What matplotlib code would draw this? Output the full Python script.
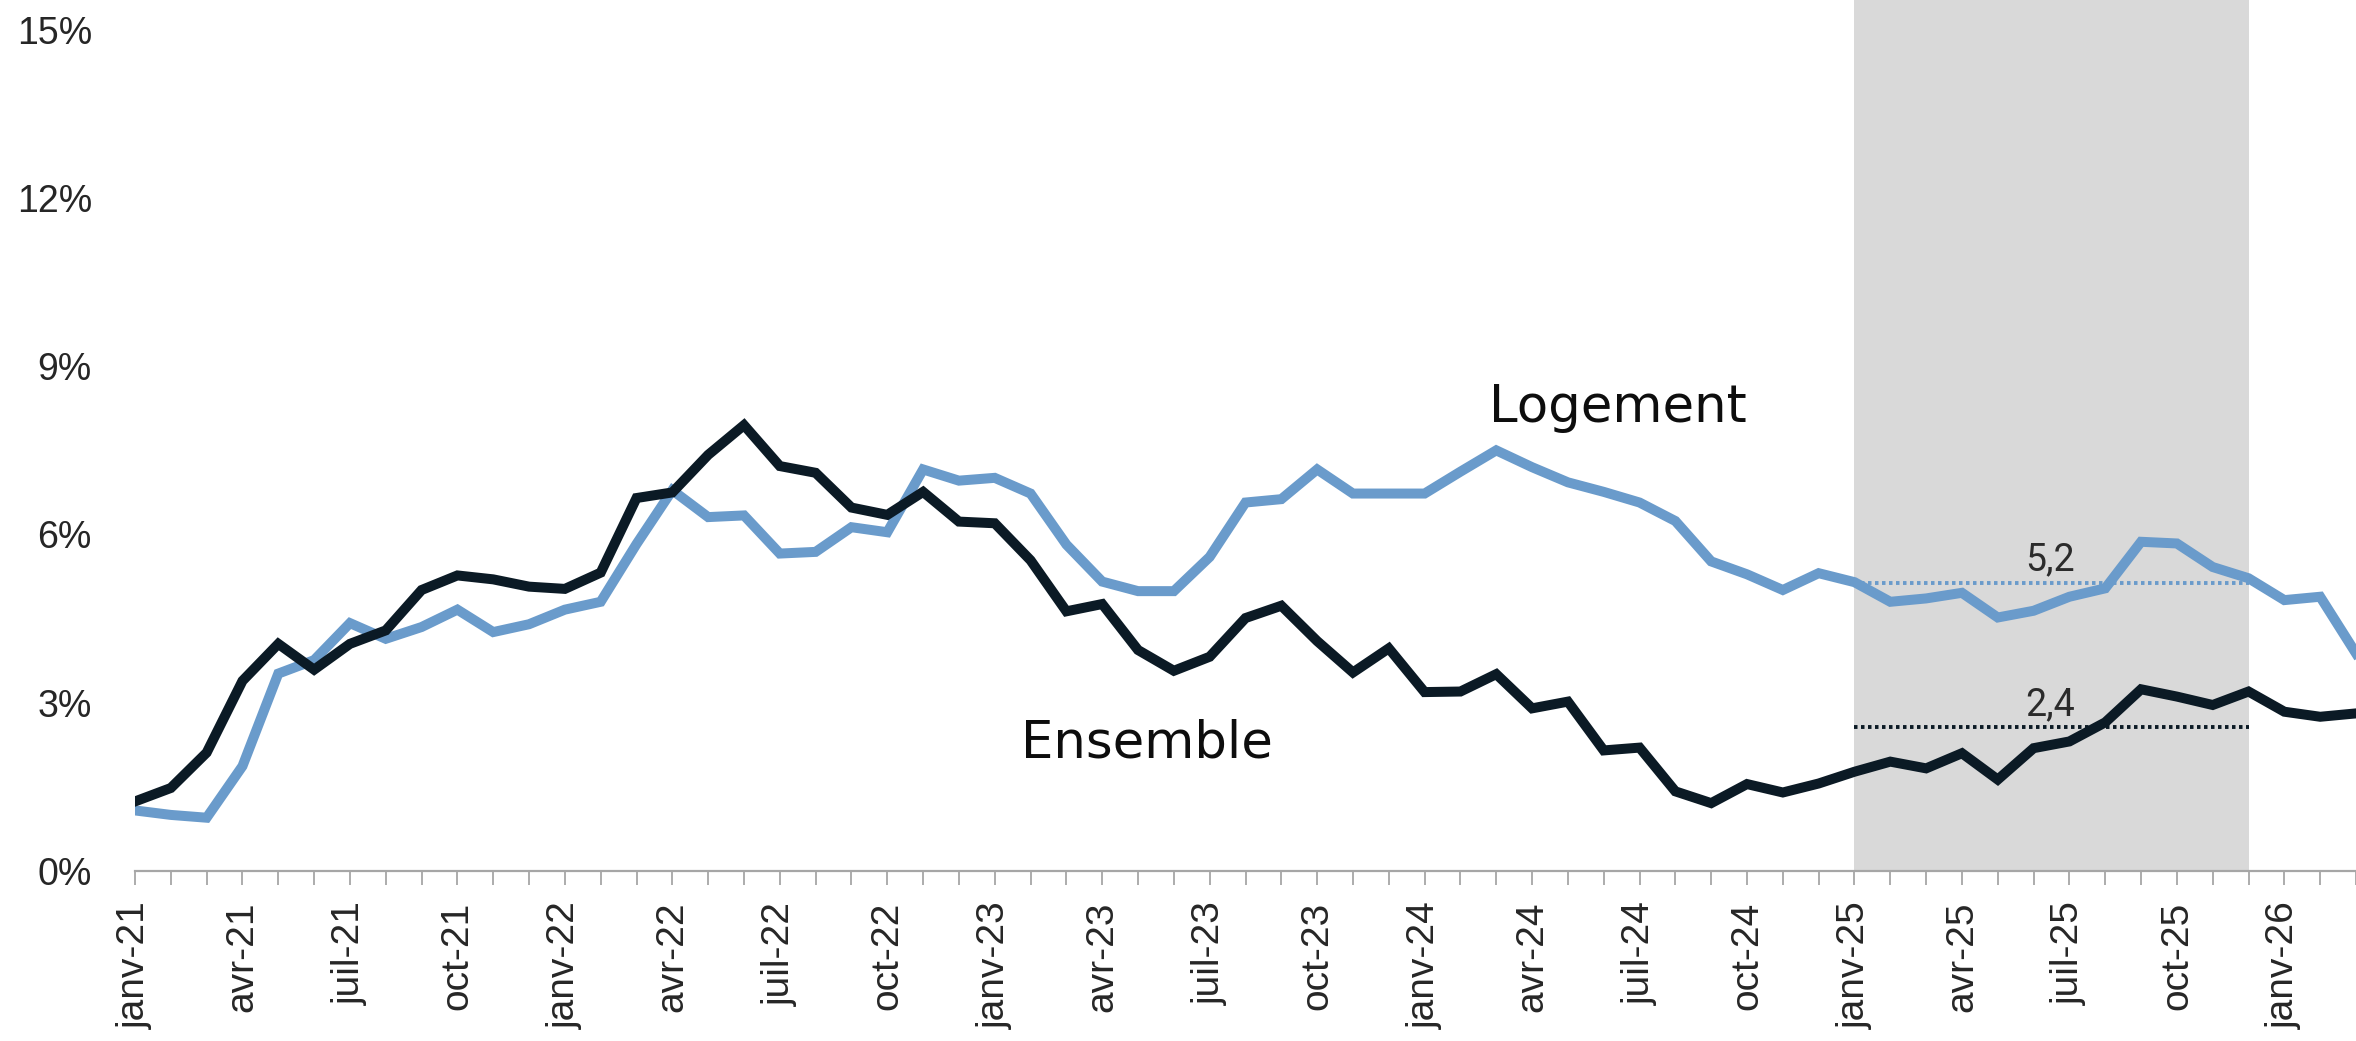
import matplotlib
matplotlib.use("Agg")
import matplotlib.pyplot as plt
from matplotlib.ticker import FixedLocator, FuncFormatter

# ---------------- data ----------------
month_abbr = ["janv", "févr", "mars", "avr", "mai", "juin",
              "juil", "août", "sept", "oct", "nov", "déc"]
start_year = 21
n_months = 63  # janv-21 .. mars-26
months = [f"{month_abbr[i % 12]}-{start_year + i // 12}" for i in range(n_months)]

ensemble = [1.24, 1.48, 2.11, 3.39, 4.05, 3.59, 4.05, 4.29, 5.01, 5.27, 5.20, 5.07,
            5.03, 5.32, 6.65, 6.75, 7.42, 7.95, 7.22, 7.10, 6.48, 6.35, 6.76, 6.23,
            6.20, 5.54, 4.63, 4.76, 3.94, 3.57, 3.82, 4.51, 4.73, 4.10, 3.54, 3.97,
            3.19, 3.20, 3.51, 2.90, 3.02, 2.15, 2.20, 1.42, 1.21, 1.55, 1.40, 1.56,
            1.77, 1.95, 1.83, 2.10, 1.63, 2.19, 2.31, 2.65, 3.24, 3.11, 2.96, 3.20,
            2.84, 2.75, 2.81]

logement = [1.08, 1.00, 0.95, 1.87, 3.52, 3.76, 4.42, 4.14, 4.35, 4.66, 4.26, 4.40,
            4.66, 4.80, 5.83, 6.79, 6.31, 6.34, 5.66, 5.69, 6.13, 6.04, 7.16, 6.96,
            7.01, 6.73, 5.82, 5.16, 4.99, 4.99, 5.60, 6.57, 6.63, 7.16, 6.73, 6.73,
            6.73, 7.12, 7.50, 7.20, 6.93, 6.76, 6.57, 6.24, 5.52, 5.29, 5.01, 5.31,
            5.15, 4.80, 4.86, 4.96, 4.52, 4.64, 4.89, 5.04, 5.87, 5.84, 5.42, 5.22,
            4.83, 4.89, 3.88]

shade_start, shade_end = "janv-25", "déc-25"
avg_logement_level, avg_logement_label = 5.13, "5,2"
avg_ensemble_level, avg_ensemble_label = 2.56, "2,4"
y_ticks = [0, 3, 6, 9, 12, 15]

# ---------------- figure ----------------
W, H, DPI = 2356, 1041, 100
fig = plt.figure(figsize=(W / DPI, H / DPI), dpi=DPI)
ax = fig.add_axes([135 / W, 1 - 871 / H, (W - 135) / W, 871 / H])

x = list(range(n_months))
i0, i1 = months.index(shade_start), months.index(shade_end)

c_blue = "#6a9bcb"
c_black = "#0b1a25"
c_text = "#262626"

ax.axvspan(i0, i1, color="#d9d9d9", lw=0, zorder=0)

ax.plot([i0, i1], [avg_logement_level] * 2, color=c_blue, lw=2.8,
        ls=(0, (0.9, 0.9)), zorder=2)
ax.plot([i0, i1], [avg_ensemble_level] * 2, color=c_black, lw=2.8,
        ls=(0, (0.9, 0.9)), zorder=2)

ax.plot(x, logement, color=c_blue, lw=7.2, solid_joinstyle="miter", zorder=3)
ax.plot(x, ensemble, color=c_black, lw=7.2, solid_joinstyle="miter", zorder=4)

ax.set_xlim(0, n_months - 1)
ax.set_ylim(0, 15.53)

# axes styling
for s in ["top", "right", "left"]:
    ax.spines[s].set_visible(False)
ax.spines["bottom"].set_color("#a6a6a6")
ax.spines["bottom"].set_linewidth(1.6)
ax.spines["bottom"].set_zorder(5)

ax.xaxis.set_major_locator(FixedLocator(x))
ax.set_xticklabels([m if i % 3 == 0 else "" for i, m in enumerate(months)],
                   rotation=90, fontsize=28, family="Liberation Sans", color=c_text)
ax.tick_params(axis="x", direction="out", length=10, width=1.3,
               color="#a6a6a6", pad=12)

ax.yaxis.set_major_locator(FixedLocator(y_ticks))
ax.yaxis.set_major_formatter(FuncFormatter(lambda v, p: f"{int(v)}%"))
ax.tick_params(axis="y", length=0, pad=31, labelsize=27, labelcolor=c_text)
for lab in ax.get_yticklabels():
    lab.set_family("Liberation Sans")

# annotations
ax.text(41.4, 8.01, "Logement", fontsize=37, family="DejaVu Sans",
        color="#0d0d0d", ha="center", va="baseline", zorder=6)
ax.text(28.26, 2.03, "Ensemble", fontsize=37, family="DejaVu Sans",
        color="#0d0d0d", ha="center", va="baseline", zorder=6)
ax.text(53.45, 5.37, avg_logement_label, fontsize=27, family="Roboto",
        color="#2b2b2b", ha="center", va="baseline", zorder=6)
ax.text(53.45, 2.78, avg_ensemble_label, fontsize=27, family="Roboto",
        color="#2b2b2b", ha="center", va="baseline", zorder=6)

fig.savefig("out.png", dpi=DPI, facecolor="white")
